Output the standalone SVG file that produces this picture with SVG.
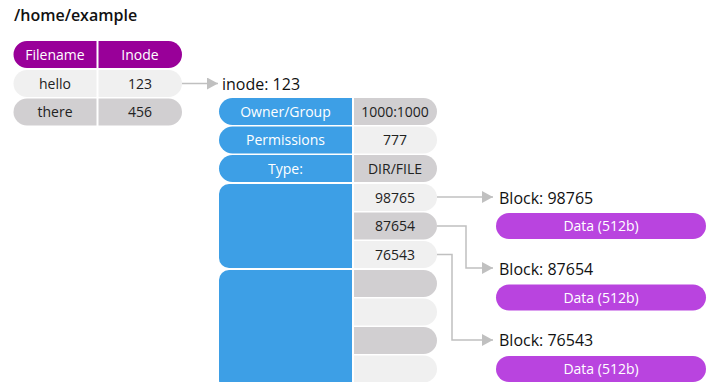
<svg xmlns="http://www.w3.org/2000/svg" width="711" height="382" viewBox="0 0 711 382">
<defs>
<style>
text{font-family:"Open Sans","Noto Sans","Liberation Sans",sans-serif;}
.t{font-size:14px;fill:#222;text-anchor:middle;}
.w{font-size:14px;fill:#fff;text-anchor:middle;}
.lbl{font-size:16px;fill:#111;}
.lt{fill:#f0f0f0;}
.dk{fill:#d1cfd1;}
.bl{fill:#3d9fe6;}
.pu{fill:#990099;}
.dp{fill:#b944df;}
.con{fill:none;stroke:#c0c0c0;stroke-width:1.5;}
</style>
<marker id="ah" markerWidth="12" markerHeight="12" refX="11" refY="6" orient="auto" markerUnits="userSpaceOnUse">
<path d="M0,0 L11,6 L0,12 Z" fill="#c0c0c0"/>
</marker>
</defs>
<rect width="711" height="382" fill="#fff"/>
<text x="14" y="21" style="font-size:16px;font-weight:600;fill:#111">/home/example</text>

<g id="dir-table">
<path class="pu" d="M27,41 H96.5 V68 H27 A13.5,13.5 0 0 1 27,41 Z"/>
<path class="pu" d="M98.5,41 H168.5 A13.5,13.5 0 0 1 168.5,68 H98.5 Z"/>
<text class="w" x="55" y="59.5">Filename</text>
<text class="w" x="140" y="59.5">Inode</text>
<path class="lt" d="M27,70 H96.5 V97 H27 A13.5,13.5 0 0 1 27,70 Z"/>
<path class="lt" d="M98.5,70 H168.5 A13.5,13.5 0 0 1 168.5,97 H98.5 Z"/>
<text class="t" x="55" y="88.5">hello</text>
<text class="t" x="140" y="88.5">123</text>
<path class="dk" d="M27,98.5 H96.5 V125.5 H27 A13.5,13.5 0 0 1 27,98.5 Z"/>
<path class="dk" d="M98.5,98.5 H168.5 A13.5,13.5 0 0 1 168.5,125.5 H98.5 Z"/>
<text class="t" x="55" y="117">there</text>
<text class="t" x="140" y="117">456</text>
</g>

<g id="inode">
<text class="lbl" x="222" y="89.5">inode: 123</text>
<path class="bl" d="M232.5,98 H352 V125 H232.5 A13.5,13.5 0 0 1 232.5,98 Z"/>
<path class="dk" d="M354,98 H423.5 A13.5,13.5 0 0 1 423.5,125 H354 Z"/>
<text class="w" x="285.5" y="116.5">Owner/Group</text>
<text class="t" x="395" y="116.5">1000:1000</text>
<path class="bl" d="M232.5,126.5 H352 V153.5 H232.5 A13.5,13.5 0 0 1 232.5,126.5 Z"/>
<path class="lt" d="M354,126.5 H423.5 A13.5,13.5 0 0 1 423.5,153.5 H354 Z"/>
<text class="w" x="285.5" y="145">Permissions</text>
<text class="t" x="395" y="145">777</text>
<path class="bl" d="M232.5,155 H352 V182 H232.5 A13.5,13.5 0 0 1 232.5,155 Z"/>
<path class="dk" d="M354,155 H423.5 A13.5,13.5 0 0 1 423.5,182 H354 Z"/>
<text class="w" x="285.5" y="173.5">Type:</text>
<text class="t" x="395" y="173.5">DIR/FILE</text>
<path class="bl" d="M229,184 H352 V268 H229 A10,10 0 0 1 219,258 V194 A10,10 0 0 1 229,184 Z"/>
<path class="bl" d="M229,270 H352 V390 H229 A10,10 0 0 1 219,380 V280 A10,10 0 0 1 229,270 Z"/>
<path class="lt" d="M354,184 H423.5 A13.5,13.5 0 0 1 423.5,211 H354 Z"/>
<text class="t" x="395" y="202.5">98765</text>
<path class="dk" d="M354,212.5 H423.5 A13.5,13.5 0 0 1 423.5,239.5 H354 Z"/>
<text class="t" x="395" y="231">87654</text>
<path class="lt" d="M354,241 H423.5 A13.5,13.5 0 0 1 423.5,268 H354 Z"/>
<text class="t" x="395" y="259.5">76543</text>
<path class="dk" d="M354,270 H423.5 A13.5,13.5 0 0 1 423.5,297 H354 Z"/>
<path class="lt" d="M354,298.5 H423.5 A13.5,13.5 0 0 1 423.5,325.5 H354 Z"/>
<path class="dk" d="M354,327 H423.5 A13.5,13.5 0 0 1 423.5,354 H354 Z"/>
<path class="lt" d="M354,355.5 H423.5 A13.5,13.5 0 0 1 423.5,382.5 H354 Z"/>
</g>

<g id="block1">
<text class="lbl" x="499" y="203.5">Block: 98765</text>
<rect class="dp" x="496" y="213" width="210" height="26" rx="13"/>
<text class="w" x="601" y="231">Data (512b)</text>
</g>
<g id="block2">
<text class="lbl" x="499" y="274.5">Block: 87654</text>
<rect class="dp" x="496" y="284.5" width="210" height="26" rx="13"/>
<text class="w" x="601" y="302.5">Data (512b)</text>
</g>
<g id="block3">
<text class="lbl" x="499" y="346">Block: 76543</text>
<rect class="dp" x="496" y="356" width="210" height="26" rx="13"/>
<text class="w" x="601" y="374">Data (512b)</text>
</g>

<g id="connectors">
<path class="con" d="M182,83.5 H218" marker-end="url(#ah)"/>
<path class="con" d="M437,197 H493" marker-end="url(#ah)"/>
<path class="con" d="M437,226 H466 V268 H493" marker-end="url(#ah)"/>
<path class="con" d="M437,254.5 H452 V340 H493" marker-end="url(#ah)"/>
</g>
</svg>
